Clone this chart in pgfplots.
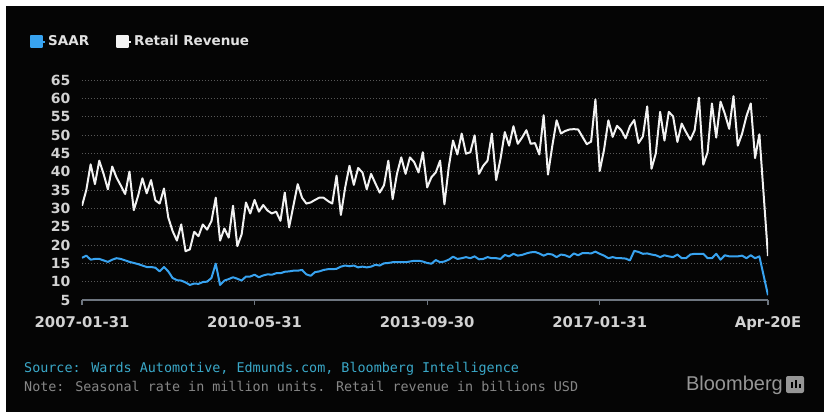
\documentclass[border=0pt]{standalone}
\usepackage{fontspec}
\setmainfont{DejaVu Sans}
\newfontfamily\monofont{DejaVu Sans Mono}
\newfontfamily\logofont{Liberation Sans}
\usepackage{pgfplots}
\usepackage{pgfplotstable}
\pgfplotsset{compat=1.18}

\definecolor{saar}{RGB}{56,163,240}
\definecolor{retail}{RGB}{242,242,242}
\definecolor{gridc}{RGB}{88,88,88}
\definecolor{axisc}{RGB}{110,118,128}
\definecolor{labelc}{RGB}{210,210,210}
\definecolor{legc}{RGB}{225,225,225}
\definecolor{srcc}{RGB}{58,168,200}
\definecolor{notec}{RGB}{135,135,135}
\definecolor{logoc}{RGB}{150,150,150}

% month index 0 = 2007-01, 159 = 2020-04 (estimate)
\pgfplotstableread{
m saar retail
0 16.5 30.7
1 17.1 35.0
2 16.0 42.0
3 16.2 36.6
4 16.2 43.0
5 15.8 39.4
6 15.4 35.2
7 16.0 41.4
8 16.4 38.4
9 16.2 36.2
10 15.8 33.9
11 15.4 40.0
12 15.1 29.5
13 14.8 33.4
14 14.4 38.2
15 14.0 34.1
16 14.0 37.7
17 13.8 32.2
18 12.8 31.3
19 14.0 35.4
20 12.8 27.5
21 11.0 23.8
22 10.4 21.2
23 10.3 25.6
24 9.8 18.3
25 9.1 18.8
26 9.5 23.6
27 9.4 22.4
28 9.9 25.6
29 10.0 24.2
30 11.0 26.5
31 14.9 32.9
32 9.1 21.2
33 10.3 24.5
34 10.7 22.0
35 11.2 30.7
36 10.8 19.7
37 10.3 22.9
38 11.4 31.6
39 11.4 28.6
40 11.9 32.3
41 11.2 29.1
42 11.7 30.9
43 12.0 29.4
44 11.9 28.6
45 12.3 29.1
46 12.3 26.6
47 12.7 34.3
48 12.8 24.8
49 13.0 30.7
50 13.0 36.6
51 13.2 32.9
52 12.0 31.3
53 11.6 31.6
54 12.6 32.3
55 12.8 32.9
56 13.2 32.9
57 13.4 32.0
58 13.4 31.3
59 13.5 38.9
60 14.1 28.2
61 14.4 35.7
62 14.2 41.6
63 14.4 36.4
64 13.9 41.0
65 14.1 39.8
66 13.9 35.2
67 14.1 39.4
68 14.6 36.8
69 14.4 34.3
70 15.0 36.3
71 15.1 43.0
72 15.3 32.5
73 15.3 39.4
74 15.3 43.9
75 15.3 39.4
76 15.5 43.9
77 15.7 42.6
78 15.7 39.8
79 15.5 45.3
80 15.1 35.7
81 14.9 38.5
82 15.9 39.8
83 15.3 43.0
84 15.5 31.1
85 16.0 41.2
86 16.8 48.5
87 16.2 44.7
88 16.4 50.4
89 16.7 44.9
90 16.4 45.3
91 16.9 49.9
92 16.1 39.4
93 16.2 41.6
94 16.7 43.0
95 16.4 50.4
96 16.4 37.7
97 16.2 43.5
98 17.3 50.8
99 16.9 47.1
100 17.6 52.4
101 17.1 47.6
102 17.3 49.3
103 17.7 51.3
104 18.0 47.6
105 18.1 47.8
106 17.7 44.7
107 17.1 55.4
108 17.6 39.2
109 17.4 47.0
110 16.7 54.0
111 17.4 50.4
112 17.2 51.1
113 16.7 51.5
114 17.7 51.6
115 17.2 51.5
116 17.8 49.5
117 17.8 47.5
118 17.7 48.2
119 18.2 59.7
120 17.6 40.2
121 17.1 46.0
122 16.4 54.0
123 16.7 49.5
124 16.4 52.5
125 16.4 51.3
126 16.3 49.1
127 15.8 52.4
128 18.4 54.1
129 18.1 47.8
130 17.6 49.6
131 17.7 57.8
132 17.4 40.8
133 17.2 45.0
134 16.7 56.3
135 17.2 48.5
136 16.9 56.3
137 16.7 55.1
138 17.4 48.1
139 16.4 53.1
140 16.4 50.8
141 17.4 48.7
142 17.6 51.3
143 17.6 60.2
144 17.6 41.9
145 16.4 45.3
146 16.4 58.6
147 17.6 49.3
148 16.0 59.1
149 17.2 55.8
150 16.9 51.7
151 16.9 60.6
152 16.9 47.1
153 17.1 50.4
154 16.4 55.1
155 17.2 58.6
156 16.4 43.7
157 16.9 50.2
158 11.6 33.6
159 6.3 17.0
}\autodata

\begin{document}
\begin{tikzpicture}
% canvas: 824 x 412, plot box origin at (82,300) px
\useasboundingbox (-82bp,-112bp) rectangle (742bp,300bp);
\fill[white] (-82bp,-112bp) rectangle (742bp,300bp);
\fill[black!98] (-76bp,-112bp) rectangle (742bp,294bp);

\begin{axis}[
  at={(0,0)}, anchor=south west,
  scale only axis, width=686bp, height=220bp,
  xmin=0, xmax=159, ymin=5, ymax=65,
  ytick={5,10,...,65},
  xtick={0,40,80,120,159},
  xticklabels={2007-01-31,2010-05-31,2013-09-30,2017-01-31,Apr-20E},
  axis x line*=bottom, axis y line*=left,
  x axis line style={draw=axisc, line width=1.2bp},
  y axis line style={draw=none},
  ymajorgrids,
  grid style={gridc, line width=0.8bp, dash pattern=on 1bp off 2bp},
  xtick style={draw=axisc, line width=1.2bp},
  ytick style={draw=none},
  tick align=outside, major tick length=5bp,
  ticklabel style={font=\fontsize{14bp}{16bp}\selectfont\bfseries, text=labelc},
  xticklabel style={font=\fontsize{14.8bp}{16bp}\selectfont\bfseries, yshift=-8bp},
  yticklabel style={xshift=-3bp},
  /pgf/number format/assume math mode=true,
  legend style={at={(-0.0758,1.175)}, anchor=west, draw=none, fill=none,
    inner sep=0pt, text=legc,
    font=\fontsize{13.5bp}{16bp}\selectfont\bfseries,
    legend columns=2,
    /tikz/every even column/.append style={column sep=25bp}},
  legend image code/.code={\fill[#1] (0bp,-5.5bp) rectangle (11bp,5.5bp);
    \path (0bp,0bp) -- (14bp,0bp);},
]
\addplot[color=saar, line width=2bp, line join=round] table[x=m, y=saar] {\autodata};
\addlegendentry{SAAR}
\addplot[color=retail, line width=2bp, line join=round] table[x=m, y=retail] {\autodata};
\addlegendentry{Retail Revenue}
\end{axis}

\node[anchor=west, inner sep=0pt, text=srcc, font=\monofont\fontsize{13.4bp}{15bp}\selectfont]
  at (-58bp,-69bp) {Source: Wards Automotive, Edmunds.com, Bloomberg Intelligence};
\node[anchor=west, inner sep=0pt, text=notec, font=\monofont\fontsize{13.4bp}{15bp}\selectfont]
  at (-58bp,-86bp) {Note: Seasonal rate in million units. Retail revenue in billions USD};
\node[anchor=east, inner sep=0pt, text=logoc, font=\logofont\fontsize{20bp}{22bp}\selectfont]
  at (701bp,-85bp) {Bloomberg};
\fill[logoc, rounded corners=2bp] (704bp,-93bp) rectangle (722bp,-76bp);
\fill[black] (709bp,-88bp) rectangle (711bp,-82bp);
\fill[black] (713bp,-88bp) rectangle (715bp,-80bp);
\fill[black] (717bp,-88bp) rectangle (719bp,-84bp);
\end{tikzpicture}
\end{document}
